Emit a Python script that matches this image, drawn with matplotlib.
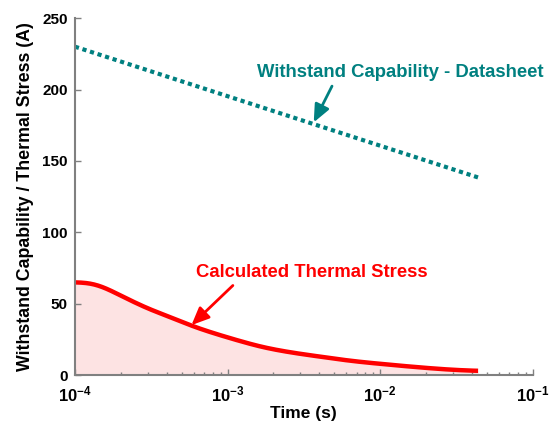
import numpy as np
import matplotlib.pyplot as plt
from matplotlib.ticker import FixedLocator, LogLocator, NullFormatter

plt.rcParams['font.family'] = ['Liberation Sans', 'DejaVu Sans']
plt.rcParams['font.weight'] = 'bold'
plt.rcParams['mathtext.fontset'] = 'custom'
plt.rcParams['mathtext.bf'] = 'Liberation Sans:bold'
plt.rcParams['mathtext.rm'] = 'Liberation Sans:bold'

# datasheet withstand capability (straight on log time)
t_ws = [1e-4, 4.5e-2]
i_ws = [230, 138]

# calculated thermal stress
t_calc = [1.0e-4, 1.19e-4, 1.39e-4, 1.70e-4, 2.07e-4, 2.54e-4, 3.26e-4, 4.19e-4,
          5.81e-4, 8.91e-4, 1.15e-3, 1.71e-3, 2.56e-3, 4.13e-3, 6.65e-3,
          1.10e-2, 1.82e-2, 3.0e-2, 4.38e-2]
i_calc = [65, 65, 63.7, 59.5, 54.8, 50.2, 45, 40.8,
          34.5, 28, 24.5, 19.5, 16, 12.8, 9.8,
          7.5, 5.4, 3.7, 2.9]

xticks = [1e-4, 1e-3, 1e-2, 1e-1]
xticklabels = ['$\\mathbf{10^{-4}}$', '$\\mathbf{10^{-3}}$',
               '$\\mathbf{10^{-2}}$', '$\\mathbf{10^{-1}}$']
yticks = [0, 50, 100, 150, 200, 250]

teal = '#008080'
red = '#ff0000'


def pchip(x, y, xn):
    # monotone cubic hermite (Fritsch-Carlson)
    x = np.asarray(x, float)
    y = np.asarray(y, float)
    h = np.diff(x)
    d = np.diff(y) / h
    m = np.zeros_like(y)
    for i in range(1, len(x) - 1):
        if d[i - 1] * d[i] > 0:
            w1 = 2 * h[i] + h[i - 1]
            w2 = h[i] + 2 * h[i - 1]
            m[i] = (w1 + w2) / (w1 / d[i - 1] + w2 / d[i])
    m[0] = 0
    m[-1] = d[-1]
    idx = np.clip(np.searchsorted(x, xn) - 1, 0, len(x) - 2)
    s = (xn - x[idx]) / h[idx]
    h00 = 2 * s**3 - 3 * s**2 + 1
    h10 = s**3 - 2 * s**2 + s
    h01 = -2 * s**3 + 3 * s**2
    h11 = s**3 - s**2
    return (h00 * y[idx] + h10 * h[idx] * m[idx] +
            h01 * y[idx + 1] + h11 * h[idx] * m[idx + 1])


fig = plt.figure(figsize=(5.55, 4.21), dpi=100)
ax = fig.add_axes([0.135, 0.109, 0.825, 0.848])

lt = np.log10(t_calc)
lf = np.linspace(lt[0], lt[-1], 400)
i_p = pchip(lt, i_calc, lf)
# light gaussian smoothing to iron out reading noise
g = np.exp(-0.5 * (np.arange(-30, 31) / 10.0) ** 2)
g /= g.sum()
i_s = np.convolve(np.pad(i_p, 30, mode='edge'), g, mode='valid')
tf = 10 ** lf

ax.fill_between(tf, 0, i_s, color='#fde3e3', lw=0)
ax.plot(tf, i_s, color=red, lw=3.2, solid_capstyle='butt')
ax.plot(t_ws, i_ws, color=teal, lw=3, ls=(0, (1, 0.9)))

ax.set_xscale('log')
ax.set_xlim(1e-4, 1e-1)
ax.set_ylim(0, 250)
ax.xaxis.set_major_locator(FixedLocator(xticks))
ax.set_xticklabels(xticklabels)
ax.xaxis.set_minor_locator(LogLocator(base=10, subs=np.arange(2, 10)))
ax.xaxis.set_minor_formatter(NullFormatter())
ax.set_yticks(yticks)

for s in ['top', 'right']:
    ax.spines[s].set_visible(False)
for s in ['left', 'bottom']:
    ax.spines[s].set_color('#808080')
    ax.spines[s].set_linewidth(1.5)
ax.tick_params(direction='in', colors='#808080', labelcolor='black',
               labelsize=11, width=1, length=4, pad=5)
ax.tick_params(which='minor', direction='in', colors='#808080', length=2.5, width=1)
ax.tick_params(axis='x', labelsize=12, pad=7)
for lab in ax.get_yticklabels():
    lab.set_fontweight('bold')

ax.set_xlabel('Time (s)', fontsize=12.5, fontweight='bold', labelpad=1)
ax.set_ylabel('Withstand Capability / Thermal Stress (A)', fontsize=12.8,
              fontweight='bold', labelpad=6)

ax.annotate('Withstand Capability - Datasheet', xy=(3.67e-3, 177),
            xytext=(1.36e-2, 212), color=teal, fontsize=13.3, fontweight='bold',
            ha='center', va='center',
            arrowprops=dict(arrowstyle='-|>,head_length=0.8,head_width=0.35',
                            color=teal, lw=2, shrinkA=2, shrinkB=0,
                            relpos=(0.27, 0.0)))
ax.annotate('Calculated Thermal Stress', xy=(5.8e-4, 35),
            xytext=(3.57e-3, 72), color=red, fontsize=13.3, fontweight='bold',
            ha='center', va='center',
            arrowprops=dict(arrowstyle='-|>,head_length=0.8,head_width=0.35',
                            color=red, lw=2, shrinkA=2, shrinkB=0,
                            relpos=(0.18, 0.0)))

fig.savefig('out.png', dpi=100)
